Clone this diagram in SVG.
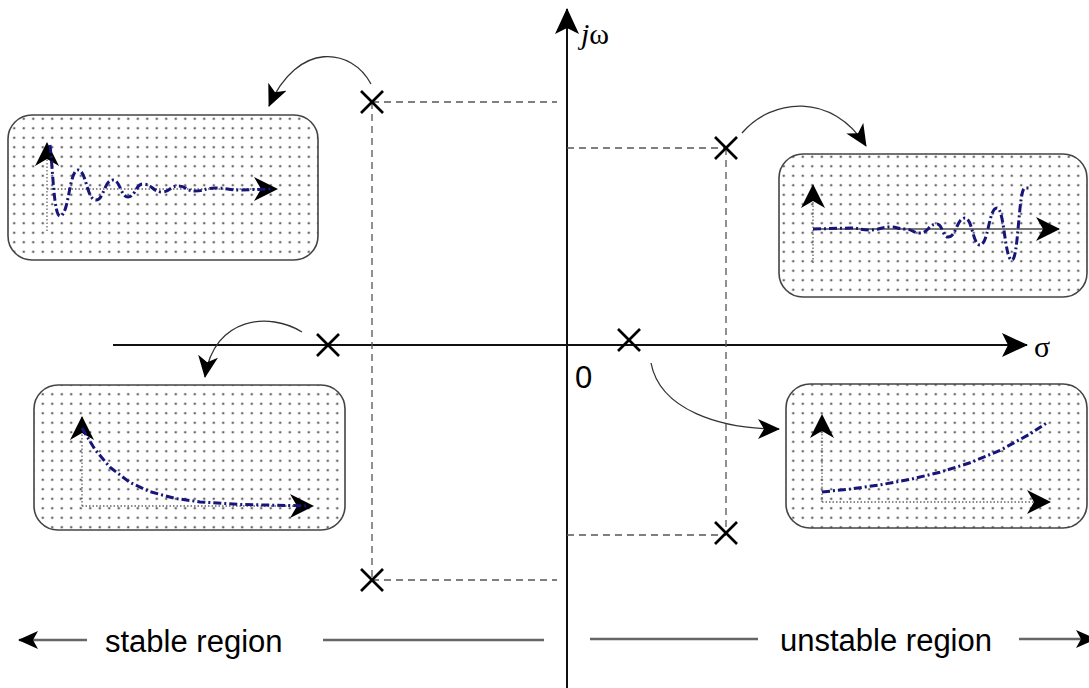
<svg xmlns="http://www.w3.org/2000/svg" width="1089" height="688" viewBox="0 0 1089 688">
<style>
.axis{stroke:#111;stroke-width:2;fill:none}
.dash{stroke:#555;stroke-width:1.3;stroke-dasharray:7,5;fill:none}
.cross{stroke:#000;stroke-width:2.6;stroke-linecap:butt}
.box{fill:url(#dots);stroke:#444;stroke-width:1.6}
.conn{stroke:#333;stroke-width:1.3;fill:none}
.sub{stroke:#666;stroke-width:1.3;stroke-dasharray:1.5,2;fill:none}
.subsolid{stroke:#777;stroke-width:2;fill:none}
.curve{stroke:#15157a;stroke-width:3;stroke-dasharray:8,3,2,3;fill:none}
.reg{stroke:#666;stroke-width:2.5;fill:none}
.lbl{font-family:"Liberation Sans",Arial,sans-serif;font-size:31px;fill:#000}
.ser{font-family:"Liberation Serif","Times New Roman",serif;font-size:30px;fill:#000}
</style>
<defs>
<pattern id="dots" width="9.5" height="9.5" patternUnits="userSpaceOnUse">
<rect width="9.5" height="9.5" fill="#fff"/>
<circle cx="4.75" cy="4.75" r="1.3" fill="#666"/>
</pattern>
<marker id="bigHead" viewBox="0 0 26 24" refX="25" refY="12" markerWidth="26" markerHeight="24" markerUnits="userSpaceOnUse" orient="auto">
<path d="M0,0 L26,12 L0,24 L6,12 Z" fill="#000"/>
</marker>
<marker id="boxHead" viewBox="0 0 24 24" refX="23" refY="12" markerWidth="24" markerHeight="24" markerUnits="userSpaceOnUse" orient="auto">
<path d="M0,0 L24,12 L0,24 L7,12 Z" fill="#000"/>
</marker>
<marker id="connHead" viewBox="0 0 22 20" refX="21" refY="10" markerWidth="22" markerHeight="20" markerUnits="userSpaceOnUse" orient="auto">
<path d="M0,0 L22,10 L0,20 L6,10 Z" fill="#000"/>
</marker>
<marker id="smallHead" viewBox="0 0 20 20" refX="19" refY="10" markerWidth="20" markerHeight="20" markerUnits="userSpaceOnUse" orient="auto">
<path d="M0,1 L20,10 L0,19 L5,10 Z" fill="#000"/>
</marker>
</defs>
<rect width="1089" height="688" fill="#fff"/>

<g id="axes">
<line class="axis" x1="567" y1="688" x2="567" y2="9" marker-end="url(#bigHead)"/>
<line class="axis" x1="113" y1="345" x2="1027" y2="345" marker-end="url(#bigHead)"/>
<text class="ser" x="581" y="44"><tspan font-style="italic">j</tspan>ω</text>
<text class="ser" x="1034" y="357">σ</text>
<text class="lbl" x="575" y="388" font-size="29">0</text>
</g>

<g id="guides">
<line class="dash" x1="372" y1="102" x2="557" y2="102"/>
<line class="dash" x1="372" y1="102" x2="372" y2="580"/>
<line class="dash" x1="372" y1="580" x2="557" y2="580"/>
<line class="dash" x1="567" y1="148" x2="726" y2="148"/>
<line class="dash" x1="726" y1="148" x2="726" y2="533"/>
<line class="dash" x1="567" y1="535" x2="726" y2="535"/>
</g>

<g id="poles">
<g id="pole-ul"><line class="cross" x1="361" y1="91" x2="383" y2="113"/><line class="cross" x1="383" y1="91" x2="361" y2="113"/></g>
<g id="pole-ll"><line class="cross" x1="361" y1="569" x2="383" y2="591"/><line class="cross" x1="383" y1="569" x2="361" y2="591"/></g>
<g id="pole-rl"><line class="cross" x1="317" y1="334" x2="339" y2="356"/><line class="cross" x1="339" y1="334" x2="317" y2="356"/></g>
<g id="pole-rr"><line class="cross" x1="618" y1="329" x2="640" y2="351"/><line class="cross" x1="640" y1="329" x2="618" y2="351"/></g>
<g id="pole-ur"><line class="cross" x1="715" y1="137" x2="737" y2="159"/><line class="cross" x1="737" y1="137" x2="715" y2="159"/></g>
<g id="pole-lr"><line class="cross" x1="715" y1="522" x2="737" y2="544"/><line class="cross" x1="737" y1="522" x2="715" y2="544"/></g>
</g>

<g id="box-damped-osc">
<rect class="box" x="8" y="115" width="310" height="145" rx="24"/>
<line class="sub" x1="47" y1="231" x2="47" y2="143" marker-end="url(#boxHead)"/>
<line class="sub" x1="47" y1="189" x2="277" y2="189" marker-end="url(#boxHead)"/>
<path class="curve" d="M50,145 C53,172 54,216 60,216 C69,216 69,170 78,170 C86.5,170 86.5,200 96,200 C104,200 104,180 113,180 C120.5,180 120.5,197 128,197 C135.5,197 135.5,184 143,184 C152.5,184 152.5,192 162,192 C170,192 170,186 178,186 C186.5,186 186.5,191 195,191 C205,191 205,188 215,188 C227.5,188 227.5,190 240,190 L272,189"/>
</g>

<g id="box-growing-osc">
<rect class="box" x="779" y="154" width="308" height="143" rx="24"/>
<line class="sub" x1="813" y1="263" x2="813" y2="185" marker-end="url(#boxHead)"/>
<line class="subsolid" x1="813" y1="229" x2="1059" y2="229" marker-end="url(#boxHead)"/>
<path class="curve" d="M813,229 L850,228 C860,228 860,230 870,230 C880,230 880,227 890,227 C897,227 898,229 905,229 C912.5,229 912.5,233 920,233 C928.5,233 928.5,224 937,224 C942.5,224 942.5,237 948,237 C956.5,237 956.5,218 965,218 C972.5,218 972.5,245 980,245 C988.5,245 988.5,208 997,208 C1004.5,208 1004.5,260 1012,260 C1018.5,260 1018.5,188 1025,188 L1029,188"/>
</g>

<g id="box-decay">
<rect class="box" x="34" y="385" width="311" height="145" rx="24"/>
<line class="sub" x1="82" y1="506" x2="82" y2="417" marker-end="url(#boxHead)"/>
<line class="sub" x1="82" y1="506" x2="313" y2="506" marker-end="url(#boxHead)"/>
<path class="curve" d="M82,428 L95,449.6 L110,467.3 L130,482.5 L150,491.7 L175,498.4 L200,501.9 L240,504.5 L300,505.7 L308,506"/>
</g>

<g id="box-growth">
<rect class="box" x="786" y="384" width="301" height="144" rx="24"/>
<line class="sub" x1="822" y1="502" x2="822" y2="415" marker-end="url(#boxHead)"/>
<line class="sub" x1="822" y1="502" x2="1050" y2="502" marker-end="url(#boxHead)"/>
<path class="curve" d="M822,492 L850,489 L880,484.9 L910,479.4 L940,472.2 L970,462.8 L1000,450.4 L1030,434 L1048,422"/>
</g>

<g id="connectors">
<path class="conn" d="M371,84 C352,48 298,40 269,106" marker-end="url(#connHead)"/>
<path class="conn" d="M742,133 C772,98 832,92 866,146" marker-end="url(#connHead)"/>
<path class="conn" d="M302,332 C270,312 214,316 205,377" marker-end="url(#connHead)"/>
<path class="conn" d="M651,363 C660,410 720,429 779,429" marker-end="url(#connHead)"/>
</g>

<g id="regions">
<line class="reg" x1="87" y1="640" x2="19" y2="640" marker-end="url(#smallHead)"/>
<text class="lbl" x="105" y="652">stable region</text>
<line class="reg" x1="323" y1="640" x2="544" y2="640"/>
<line class="reg" x1="590" y1="639" x2="758" y2="639"/>
<text class="lbl" x="780" y="651">unstable region</text>
<line class="reg" x1="1019" y1="639" x2="1095" y2="639" marker-end="url(#smallHead)"/>
</g>
</svg>
